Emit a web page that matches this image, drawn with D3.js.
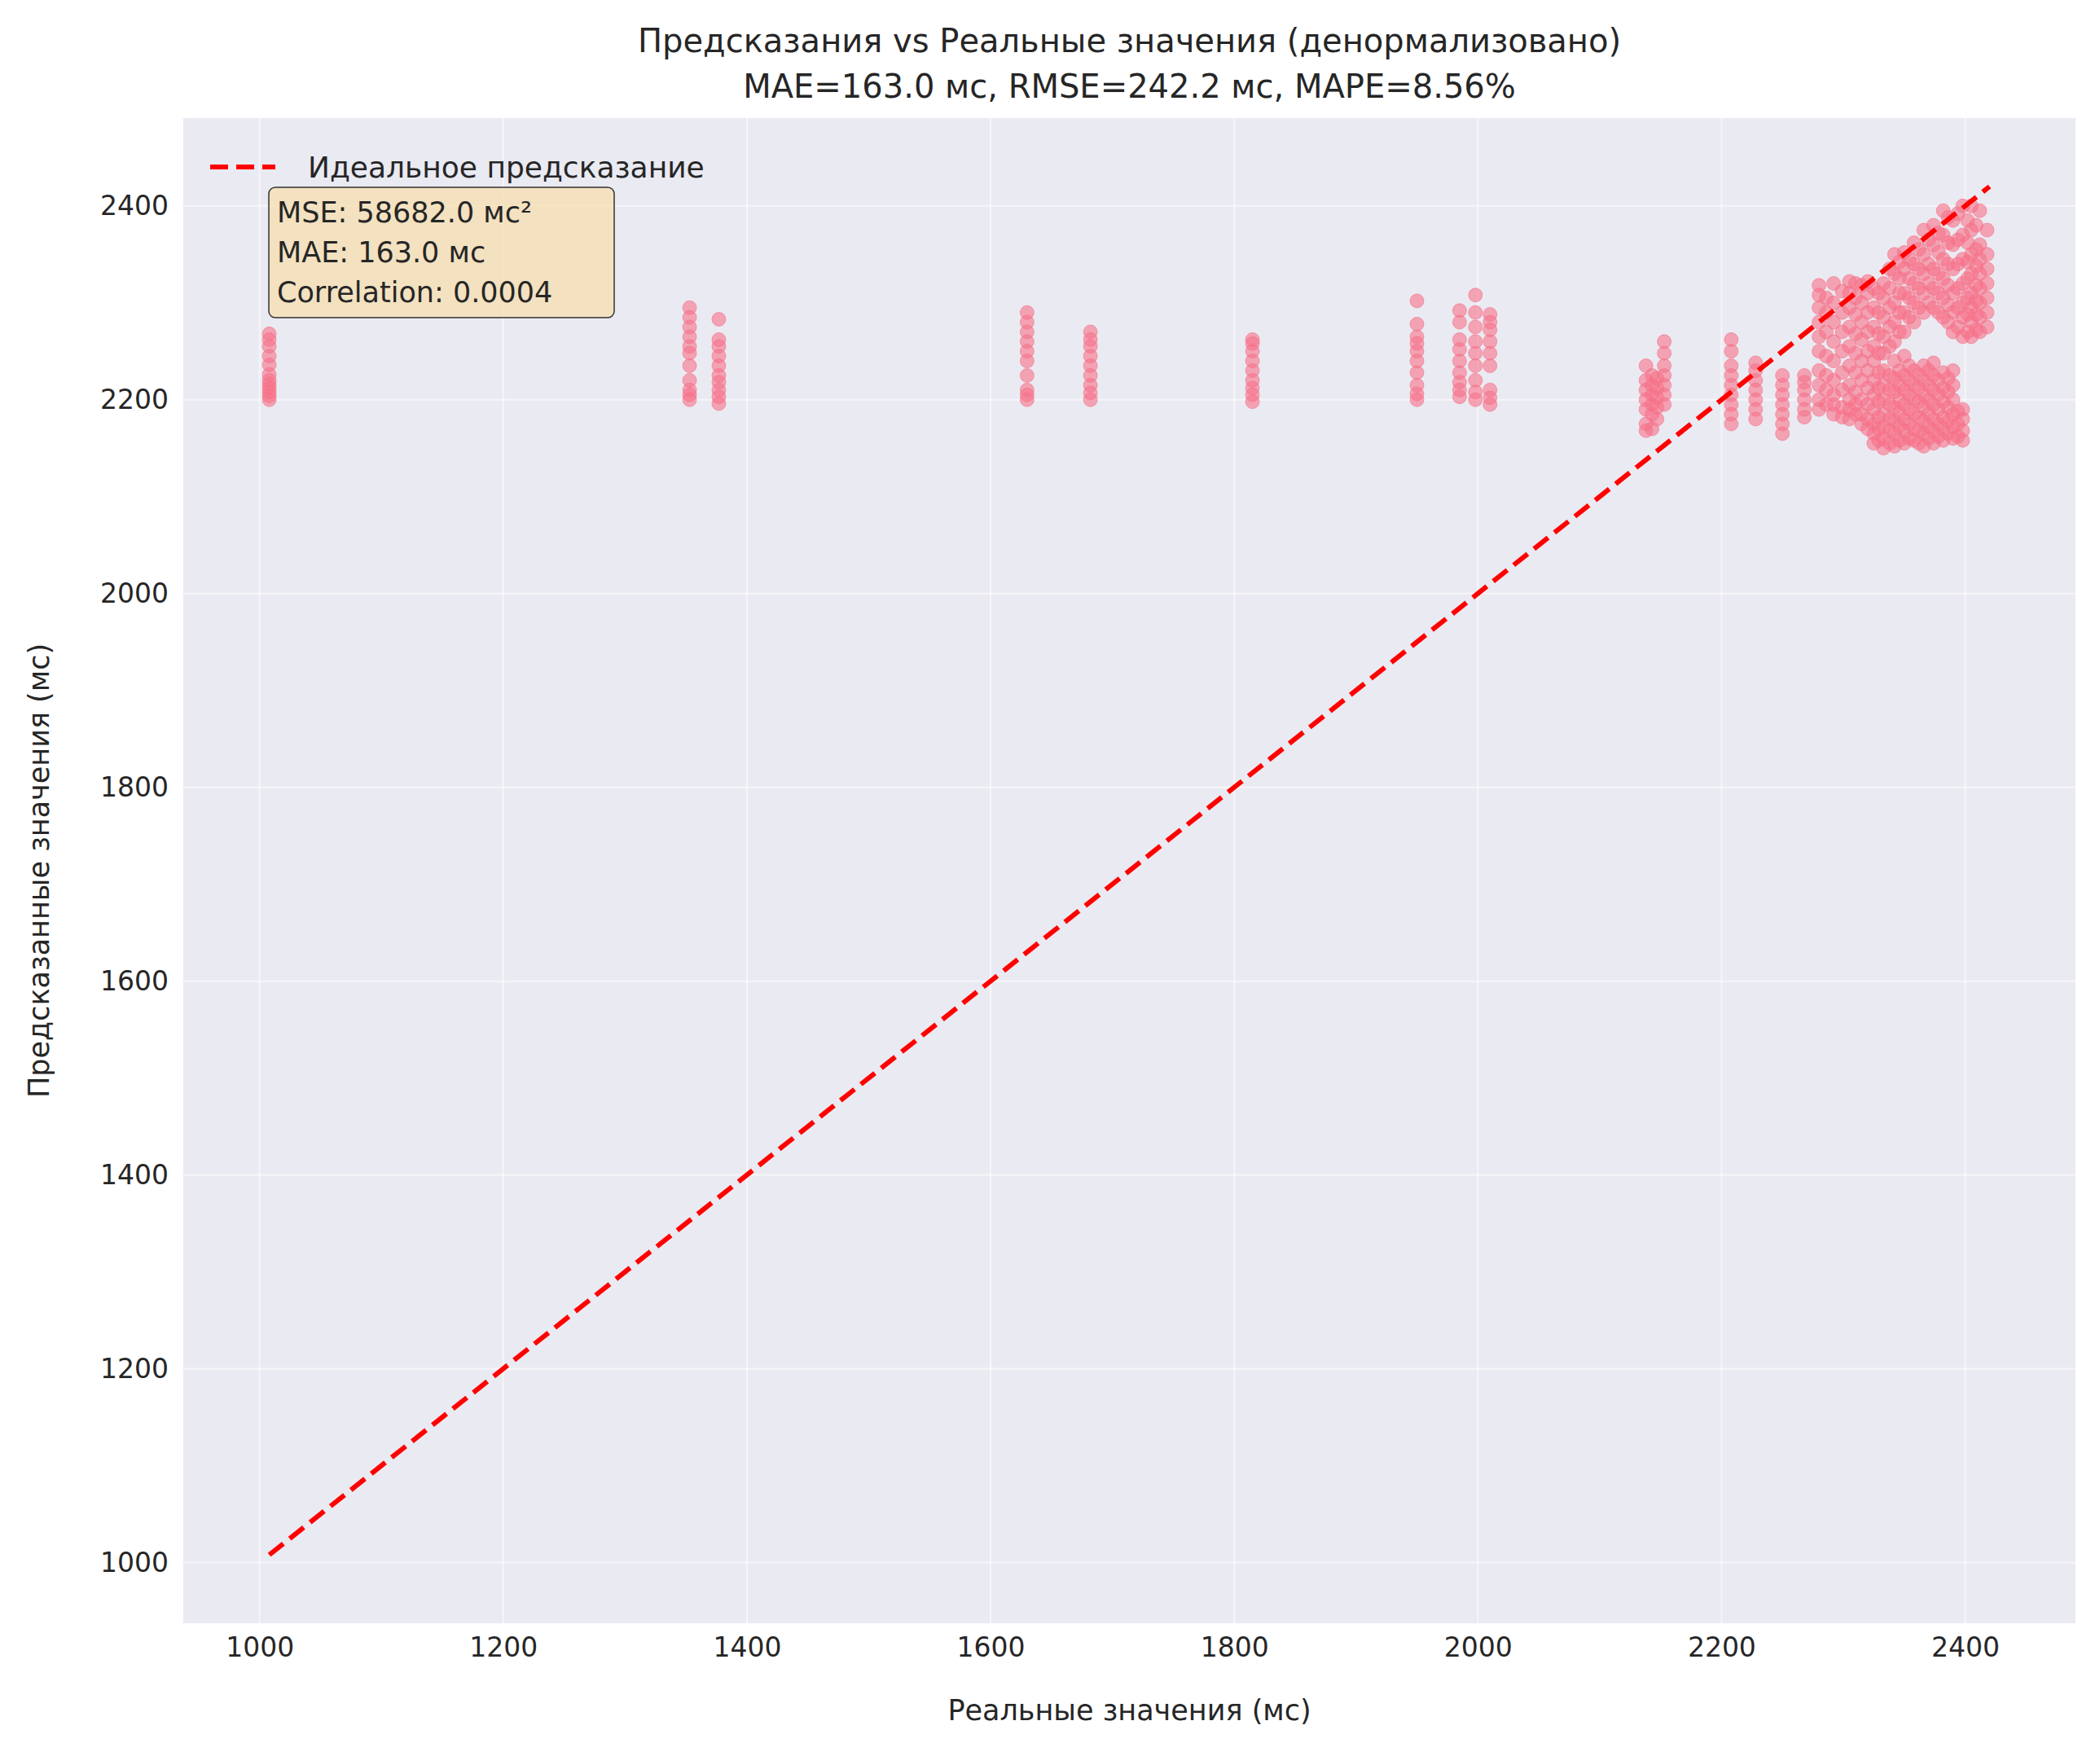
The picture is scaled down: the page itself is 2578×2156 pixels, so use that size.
<!DOCTYPE html>
<html>
<head>
<meta charset="utf-8">
<style>
  body { margin: 0; background: #fff; }
  text { font-family: "DejaVu Sans", sans-serif; fill: #262626; }
</style>
<script src="https://d3js.org/d3.v7.min.js"></script>
</head>
<body>
<script>
// tick values
var xTicks = [1000, 1200, 1400, 1600, 1800, 2000, 2200, 2400];
var yTicks = [1000, 1200, 1400, 1600, 1800, 2000, 2200, 2400];

// ideal line endpoints (min / max of data)
var idealLine = [1008, 2420];

var clusters = [
  {x: 1008, ys: [2200, 2204, 2208, 2212, 2216, 2220, 2226, 2236, 2245, 2255, 2262, 2268]},
  {x: 1353, ys: [2200, 2205, 2210, 2220, 2235, 2248, 2255, 2265, 2275, 2285, 2295]},
  {x: 1377, ys: [2196, 2203, 2210, 2218, 2225, 2235, 2245, 2255, 2262, 2283]},
  {x: 1630, ys: [2200, 2205, 2210, 2225, 2240, 2250, 2260, 2270, 2280, 2290]},
  {x: 1682, ys: [2200, 2207, 2215, 2225, 2235, 2245, 2255, 2262, 2270]},
  {x: 1815, ys: [2198, 2205, 2212, 2220, 2230, 2240, 2250, 2258, 2262]},
  {x: 1950, ys: [2200, 2206, 2215, 2228, 2240, 2250, 2258, 2265, 2278, 2302]},
  {x: 1985, ys: [2203, 2210, 2218, 2228, 2240, 2252, 2262, 2280, 2292]},
  {x: 1998, ys: [2200, 2208, 2220, 2235, 2248, 2260, 2275, 2290, 2308]},
  {x: 2010, ys: [2195, 2202, 2210, 2235, 2248, 2260, 2272, 2280, 2288]},
  {x: 2138, ys: [2168, 2175, 2190, 2200, 2210, 2220, 2235]},
  {x: 2143, ys: [2170, 2185, 2195, 2205, 2215, 2225]},
  {x: 2147, ys: [2180, 2192, 2202, 2212, 2222]},
  {x: 2153, ys: [2195, 2205, 2215, 2225, 2235, 2248, 2260]},
  {x: 2208, ys: [2175, 2185, 2195, 2205, 2215, 2225, 2235, 2250, 2262]},
  {x: 2228, ys: [2180, 2190, 2200, 2210, 2220, 2230, 2238]},
  {x: 2250, ys: [2165, 2175, 2185, 2195, 2205, 2215, 2225]},
  {x: 2268, ys: [2182, 2190, 2200, 2210, 2218, 2225]},
  {x: 2280, ys: [2190, 2200, 2215, 2230, 2250, 2265, 2280, 2295, 2308, 2318]},
  {x: 2286, ys: [2195, 2210, 2225, 2245, 2270, 2290, 2305]},
  {x: 2292, ys: [2185, 2195, 2205, 2220, 2240, 2260, 2280, 2300, 2320]},
  {x: 2299, ys: [2182, 2192, 2210, 2228, 2250, 2270, 2290, 2312]},
  {x: 2305, ys: [2180, 2190, 2200, 2215, 2235, 2255, 2275, 2295, 2310, 2322]},
  {x: 2310, ys: [2185, 2195, 2208, 2228, 2248, 2268, 2288, 2305, 2320]},
  {x: 2315, ys: [2175, 2185, 2200, 2220, 2240, 2262, 2280, 2300, 2318]},
  {x: 2320, ys: [2170, 2180, 2195, 2212, 2230, 2250, 2270, 2290, 2310, 2322]},
  {x: 2325, ys: [2155, 2165, 2175, 2190, 2205, 2220, 2240, 2255, 2275, 2295, 2315]},
  {x: 2329, ys: [2158, 2170, 2182, 2198, 2212, 2228, 2248, 2268, 2290, 2310]},
  {x: 2333, ys: [2150, 2160, 2172, 2185, 2200, 2215, 2230, 2248, 2265, 2285, 2305, 2320]},
  {x: 2338, ys: [2155, 2168, 2180, 2195, 2210, 2225, 2255, 2275, 2295, 2315, 2335]},
  {x: 2342, ys: [2152, 2165, 2178, 2192, 2208, 2222, 2240, 2260, 2280, 2300, 2330, 2350]},
  {x: 2346, ys: [2158, 2172, 2186, 2200, 2215, 2230, 2270, 2290, 2310, 2325, 2342]},
  {x: 2350, ys: [2155, 2168, 2180, 2195, 2210, 2225, 2245, 2270, 2290, 2310, 2335, 2352]},
  {x: 2354, ys: [2160, 2175, 2190, 2205, 2220, 2235, 2285, 2305, 2325, 2345]},
  {x: 2358, ys: [2158, 2170, 2185, 2200, 2215, 2230, 2280, 2300, 2320, 2340, 2362]},
  {x: 2362, ys: [2155, 2168, 2182, 2198, 2212, 2226, 2295, 2315, 2335, 2355]},
  {x: 2366, ys: [2152, 2165, 2178, 2192, 2205, 2220, 2235, 2290, 2310, 2330, 2350, 2375]},
  {x: 2370, ys: [2160, 2172, 2186, 2200, 2215, 2230, 2300, 2320, 2340, 2365]},
  {x: 2374, ys: [2155, 2168, 2180, 2195, 2210, 2225, 2238, 2295, 2315, 2335, 2360, 2380]},
  {x: 2378, ys: [2162, 2175, 2190, 2205, 2220, 2290, 2310, 2330, 2352, 2372]},
  {x: 2382, ys: [2158, 2170, 2182, 2198, 2212, 2228, 2285, 2305, 2325, 2345, 2370, 2395]},
  {x: 2386, ys: [2165, 2178, 2192, 2208, 2222, 2280, 2298, 2318, 2340, 2362, 2388]},
  {x: 2390, ys: [2160, 2172, 2185, 2200, 2215, 2230, 2270, 2290, 2310, 2335, 2360, 2385]},
  {x: 2394, ys: [2162, 2175, 2188, 2275, 2295, 2315, 2340, 2365, 2392]},
  {x: 2398, ys: [2158, 2168, 2180, 2190, 2265, 2285, 2300, 2320, 2345, 2370, 2400]},
  {x: 2402, ys: [2270, 2288, 2305, 2325, 2342, 2362, 2385]},
  {x: 2405, ys: [2265, 2280, 2295, 2310, 2330, 2350, 2375, 2400]},
  {x: 2409, ys: [2272, 2288, 2302, 2318, 2338, 2355, 2380]},
  {x: 2412, ys: [2270, 2285, 2300, 2315, 2330, 2345, 2360, 2395]},
  {x: 2418, ys: [2275, 2290, 2305, 2320, 2335, 2350, 2375]}
];

var W = 2578, H = 2156;
var L = 225, R = 2548, T = 145, B = 1993;

var svg = d3.select("body").append("svg").attr("width", W).attr("height", H);

var x = d3.scaleLinear().domain([937.4, 2490.6]).range([L, R]);
var y = d3.scaleLinear().domain([937.4, 2490.6]).range([B, T]);

svg.append("rect").attr("x", L).attr("y", T).attr("width", R - L).attr("height", B - T).attr("fill", "#eaeaf2");

// grid
svg.append("g").selectAll("line").data(xTicks).join("line")
  .attr("x1", d => x(d)).attr("x2", d => x(d)).attr("y1", T).attr("y2", B)
  .attr("stroke", "#fff").attr("stroke-width", 2).attr("opacity", 0.6);
svg.append("g").selectAll("line").data(yTicks).join("line")
  .attr("y1", d => y(d)).attr("y2", d => y(d)).attr("x1", L).attr("x2", R)
  .attr("stroke", "#fff").attr("stroke-width", 2).attr("opacity", 0.6);

// axes (labels only, seaborn darkgrid style)
var xa = svg.append("g").attr("transform", "translate(0," + B + ")")
  .call(d3.axisBottom(x).tickValues(xTicks).tickFormat(d3.format("d")).tickSize(0).tickPadding(18));
var ya = svg.append("g").attr("transform", "translate(" + L + ",0)")
  .call(d3.axisLeft(y).tickValues(yTicks).tickFormat(d3.format("d")).tickSize(0).tickPadding(18));
[xa, ya].forEach(function (a) {
  a.select(".domain").remove();
  a.selectAll("text").attr("font-size", 33).attr("font-family", "DejaVu Sans").attr("fill", "#262626");
});

// points
var pts = [];
clusters.forEach(function (c) { c.ys.forEach(function (v) { pts.push([c.x, v]); }); });
svg.append("g").selectAll("circle").data(pts).join("circle")
  .attr("cx", d => x(d[0])).attr("cy", d => y(d[1])).attr("r", 8.5)
  .attr("fill", "#f77189").attr("fill-opacity", 0.6)
  .attr("stroke", "#f77189").attr("stroke-opacity", 0.6);

// ideal line
svg.append("line")
  .attr("x1", x(idealLine[0])).attr("y1", y(idealLine[0]))
  .attr("x2", x(idealLine[1])).attr("y2", y(idealLine[1]))
  .attr("stroke", "red").attr("stroke-width", 6).attr("stroke-dasharray", "22,10");

// legend
svg.append("line").attr("x1", 258).attr("x2", 338).attr("y1", 205).attr("y2", 205)
  .attr("stroke", "red").attr("stroke-width", 6).attr("stroke-dasharray", "22,10");
svg.append("text").attr("x", 378).attr("y", 218).attr("font-size", 36).text("Идеальное предсказание");

// stats box
svg.append("rect").attr("x", 330).attr("y", 230).attr("width", 424).attr("height", 160).attr("rx", 8)
  .attr("fill", "#f5deb3").attr("fill-opacity", 0.8).attr("stroke", "#333").attr("stroke-width", 1.5);
["MSE: 58682.0 мс²", "MAE: 163.0 мс", "Correlation: 0.0004"].forEach(function (t, i) {
  svg.append("text").attr("x", 340).attr("y", 273 + i * 49).attr("font-size", 35).text(t);
});

// titles
svg.append("text").attr("x", (L + R) / 2).attr("y", 64).attr("text-anchor", "middle").attr("font-size", 40)
  .text("Предсказания vs Реальные значения (денормализовано)");
svg.append("text").attr("x", (L + R) / 2).attr("y", 120).attr("text-anchor", "middle").attr("font-size", 40)
  .text("MAE=163.0 мс, RMSE=242.2 мс, MAPE=8.56%");
svg.append("text").attr("x", (L + R) / 2).attr("y", 2112).attr("text-anchor", "middle").attr("font-size", 35)
  .text("Реальные значения (мс)");
svg.append("text").attr("transform", "translate(60," + (T + B) / 2 + ") rotate(-90)")
  .attr("text-anchor", "middle").attr("font-size", 35).text("Предсказанные значения (мс)");
</script>
</body>
</html>
